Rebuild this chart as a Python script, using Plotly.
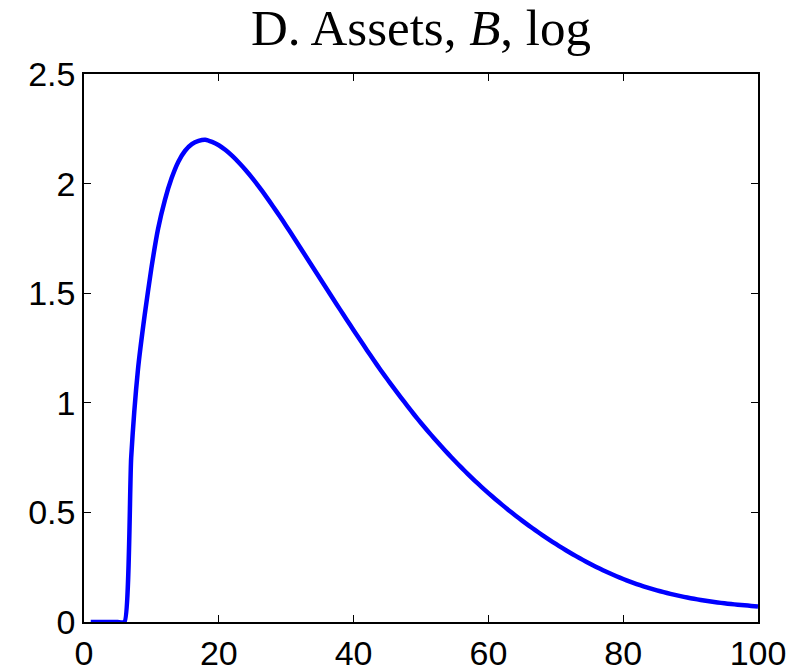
import plotly.graph_objects as go

ages = list(range(1, 101))
assets = [
    0, 0, 0, 0, 0, 0, 0.75, 1.15, 1.40, 1.615,
    1.795, 1.925, 2.025, 2.10, 2.15, 2.18, 2.195, 2.20, 2.19, 2.175,
    2.153, 2.126, 2.095, 2.061, 2.024, 1.984, 1.942, 1.898, 1.853, 1.807,
    1.760, 1.712, 1.664, 1.616, 1.568, 1.520, 1.472, 1.425, 1.378, 1.331,
    1.285, 1.239, 1.194, 1.150, 1.1075, 1.0658, 1.0249, 0.9848, 0.9455, 0.908,
    0.8715, 0.836, 0.8015, 0.768, 0.7355, 0.704, 0.6735, 0.644, 0.6155, 0.588,
    0.5615, 0.5355, 0.5103, 0.486, 0.4625, 0.4398, 0.4178, 0.3965, 0.3759, 0.356,
    0.3368, 0.3183, 0.3005, 0.2834, 0.267, 0.2513, 0.2363, 0.2221, 0.2087, 0.1961,
    0.1843, 0.1733, 0.163, 0.1534, 0.1445, 0.1362, 0.1285, 0.1214, 0.1148, 0.1087,
    0.1031, 0.098, 0.0934, 0.0892, 0.0854, 0.082, 0.0789, 0.0761, 0.0735, 0.0711,
]
x_ticks = [0, 20, 40, 60, 80, 100]
x_tick_labels = ["0", "20", "40", "60", "80", "100"]
y_ticks = [0, 0.5, 1, 1.5, 2, 2.5]
y_tick_labels = ["0", "0.5", "1", "1.5", "2", "2.5"]
title_text = "D. Assets, <i>B</i>, log"

fig = go.Figure()
fig.add_trace(go.Scatter(x=ages, y=assets, mode="lines",
                         line=dict(color="#0000ff", width=4.5, shape="spline", smoothing=0.5)))

axis_common = dict(showgrid=False, zeroline=False, showline=True, linecolor="black",
                   linewidth=1.5, mirror="ticks", ticks="inside", ticklen=7,
                   tickcolor="black", tickwidth=1.2, automargin=False,
                   tickfont=dict(family="Liberation Sans, Arial", size=34, color="black"))

fig.update_layout(
    width=801, height=672,
    margin=dict(l=84, r=43, t=50, b=50),
    paper_bgcolor="white", plot_bgcolor="white",
    showlegend=False,
    title=dict(text=title_text, x=(84 + 758) / 2 / 801, xanchor="center",
               y=1 - 27 / 672, yanchor="middle", yref="container",
               font=dict(family="Liberation Serif, Times New Roman", size=51, color="black")),
    xaxis=dict(range=[0, 100], tickvals=x_ticks, ticktext=x_tick_labels, **axis_common),
    yaxis=dict(range=[0, 2.5], tickvals=y_ticks, ticktext=y_tick_labels,
               domain=[0, 1 - 24 / 572], **axis_common),
)

fig.write_html("out.html")
